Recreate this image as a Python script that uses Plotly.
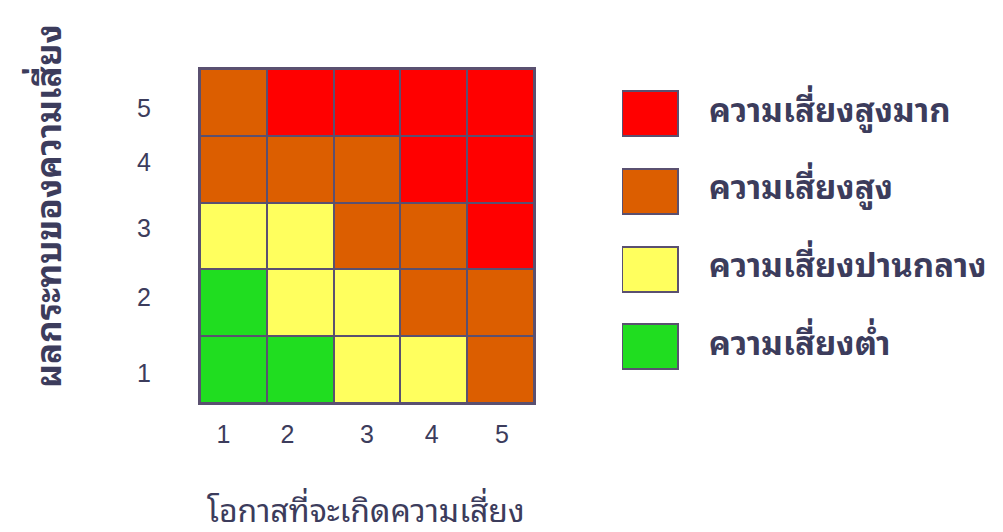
import plotly.graph_objects as go

# ---- data ----
likelihood = [1, 2, 3, 4, 5]          # x categories (โอกาส)
impact = [1, 2, 3, 4, 5]              # y categories (ผลกระทบ)
# risk level per cell: 0 = low, 1 = medium, 2 = high, 3 = very high
risk_rows = [
    [0, 0, 1, 1, 2],   # impact 1
    [0, 1, 1, 2, 2],   # impact 2
    [1, 1, 2, 2, 3],   # impact 3
    [2, 2, 2, 3, 3],   # impact 4
    [2, 3, 3, 3, 3],   # impact 5
]
level_names = ["ความเสี่ยงสูงมาก", "ความเสี่ยงสูง", "ความเสี่ยงปานกลาง", "ความเสี่ยงต่ำ"]
level_values = [3, 2, 1, 0]
tick_labels = ["1", "2", "3", "4", "5"]
x_title = "โอกาสที่จะเกิดความเสี่ยง"
y_title = "ผลกระทบของความเสี่ยง"

# ---- style ----
colors = ["#20DD20", "#FFFF5E", "#DC5E00", "#FF0000"]
border = "#5A5070"
text_col = "#3C3C5C"
thai_font = "Tahoma, 'Noto Sans Thai Looped', 'Noto Sans Thai', sans-serif"
num_font = "Arial, 'Liberation Sans', sans-serif"
W, H = 1003, 532
OFF = 7  # page offset compensation (px)


def px_x(p):
    return (p - OFF) / W


def px_y(p):
    return (H - (p - OFF)) / H


fig = go.Figure()
for imp, row in zip(impact, risk_rows):
    fig.add_trace(go.Bar(
        x=likelihood, y=[1] * len(row),
        marker=dict(color=[colors[v] for v in row], line=dict(color=border, width=2)),
        width=1, hoverinfo="skip", showlegend=False,
    ))

# legend squares + labels on separate axes
leg_w = 56
fig.add_trace(go.Bar(
    x=[1] * len(level_names), y=level_names, orientation="h",
    marker=dict(color=[colors[v] for v in level_values],
                line=dict(color=border, width=2)),
    width=0.58, xaxis="x2", yaxis="y2", hoverinfo="skip", showlegend=False,
))
fig.add_trace(go.Scatter(
    x=[1.55] * len(level_names), y=level_names, mode="text",
    text=["<b>" + n + "</b>" for n in level_names], textposition="middle right",
    textfont=dict(size=33, color=text_col, family=thai_font),
    xaxis="x2", yaxis="y2", cliponaxis=False, hoverinfo="skip", showlegend=False,
))

fig.update_layout(
    width=W, height=H,
    margin=dict(l=0, r=0, t=0, b=0),
    paper_bgcolor="white",
    plot_bgcolor="white",
    showlegend=False,
    barmode="stack", bargap=0,
    xaxis=dict(domain=[px_x(199), px_x(533)], range=[0.5, 5.5],
               tickvals=[0.85, 1.81, 3.0, 3.97, 5.02], ticktext=tick_labels,
               ticks="outside", ticklen=8, tickcolor="rgba(0,0,0,0)",
               showgrid=False, zeroline=False,
               showline=True, linecolor=border, linewidth=2, mirror=True,
               tickfont=dict(size=25, color=text_col, family=num_font)),
    yaxis=dict(domain=[px_y(402), px_y(68)], range=[0, 5],
               tickvals=[0.45, 1.59, 2.62, 3.6, 4.41], ticktext=tick_labels,
               ticks="outside", ticklen=42, tickcolor="rgba(0,0,0,0)",
               showgrid=False, zeroline=False,
               showline=True, linecolor=border, linewidth=2, mirror=True,
               tickfont=dict(size=25, color=text_col, family=num_font)),
    xaxis2=dict(domain=[px_x(621), px_x(1003)], range=[0, (1003 - 621) / leg_w],
                visible=False, anchor="y2"),
    yaxis2=dict(domain=[px_y(384.3), px_y(73.7)], range=[3.5, -0.5],
                type="category", visible=False, anchor="x2"),
    annotations=[
        dict(text=x_title, xref="paper", yref="paper", x=px_x(365), y=px_y(506),
             showarrow=False, xanchor="center", yanchor="middle",
             font=dict(size=32, color=text_col, family=thai_font)),
        dict(text="<b>" + y_title + "</b>", xref="paper", yref="paper", x=px_x(44), y=px_y(205),
             showarrow=False, xanchor="center", yanchor="middle", textangle=-90,
             font=dict(size=35, color=text_col, family=thai_font)),
    ],
)

fig.write_html("out.html")
